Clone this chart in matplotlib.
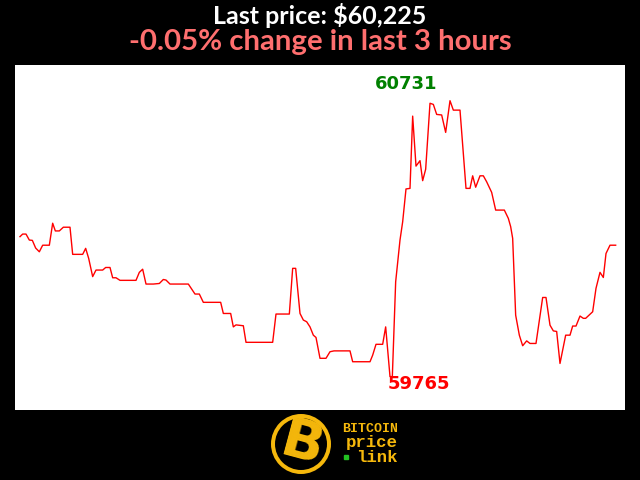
"""
Bitcoin last-3-hours price card: red price line on a white panel,
black frame with headline, high/low labels and the site logo.
"""

import matplotlib
matplotlib.use("Agg")
import matplotlib.pyplot as plt
from matplotlib.patches import Circle

# ---------------------------------------------------------------------------
# Data (minutes since start, price in USD)
# ---------------------------------------------------------------------------
minutes = [
    0.0, 0.8, 1.8, 2.8, 3.7, 4.7, 5.8, 6.8, 8.8, 9.8,
    10.6, 11.8, 13.0, 15.0, 15.8, 18.8, 19.7, 20.6, 21.8, 22.8,
    24.8, 25.7, 27.0, 27.8, 28.8, 30.0, 34.8, 35.8, 36.8, 37.8,
    40.0, 41.8, 43.0, 43.8, 45.0, 50.5, 52.5, 53.8, 55.0, 60.2,
    61.0, 63.2, 64.0, 64.8, 67.0, 67.8, 75.8, 76.8, 80.8, 81.8,
    82.7, 84.0, 85.0, 86.0, 87.0, 88.0, 88.8, 90.0, 91.8, 93.0,
    94.2, 99.0, 99.8, 105.0, 105.8, 106.8, 108.8, 109.7, 111.0, 111.7,
    112.7, 114.0, 114.8, 115.8, 117.0, 117.8, 118.8, 120.0, 120.8, 121.7,
    123.0, 124.0, 125.0, 126.5, 127.7, 129.0, 130.0, 132.0, 133.8, 135.0,
    135.8, 136.7, 138.0, 139.0, 140.0, 141.5, 142.7, 145.3, 146.5, 147.2,
    147.8, 148.7, 149.8, 150.8, 152.0, 153.0, 154.8, 156.8, 157.8, 159.0,
    160.0, 161.0, 162.0, 163.7, 165.0, 165.8, 166.8, 168.0, 169.0, 169.7,
    171.8, 172.8, 174.0, 175.0, 175.8, 177.0, 178.7,
]
prices = [
    60255, 60264, 60264, 60243, 60242, 60215, 60202, 60225, 60225, 60302,
    60275, 60275, 60288, 60288, 60193, 60193, 60214, 60179, 60115, 60138,
    60138, 60147, 60147, 60111, 60111, 60102, 60102, 60130, 60141, 60089,
    60089, 60091, 60105, 60103, 60089, 60089, 60054, 60054, 60025, 60025,
    59986, 59986, 59939, 59946, 59943, 59885, 59885, 59984, 59984, 60144,
    60144, 59986, 59963, 59957, 59939, 59910, 59902, 59829, 59829, 59852,
    59855, 59855, 59817, 59817, 59840, 59878, 59878, 59939, 59765, 59765,
    60097, 60243, 60307, 60422, 60424, 60677, 60502, 60521, 60451, 60491,
    60722, 60718, 60683, 60681, 60620, 60731, 60698, 60698, 60424, 60424,
    60468, 60428, 60468, 60468, 60447, 60410, 60348, 60348, 60319, 60290,
    60249, 59980, 59910, 59873, 59890, 59881, 59881, 60042, 60042, 59945,
    59925, 59923, 59811, 59910, 59910, 59942, 59942, 59977, 59969, 59969,
    59992, 60074, 60130, 60112, 60196, 60225, 60225,
]

last_price = 60225
change_pct = -0.05
hours = 3

GOLD = "#f5b80c"

# ---------------------------------------------------------------------------
# Figure
# ---------------------------------------------------------------------------
fig = plt.figure(figsize=(6.4, 4.8), dpi=100, facecolor="black")
ax = fig.add_axes([15 / 640, 70 / 480, 610 / 640, 345 / 480])
ax.set_facecolor("white")
ax.plot(minutes, prices, color="red", linewidth=1.0)

ax.set_xlim(-1.5, 181.5)
ax.set_ylim(59648, 60856)
ax.set_xticks([])
ax.set_yticks([])
for s in ax.spines.values():
    s.set_visible(False)

# high / low labels
hi = max(prices)
lo = min(prices)
hi_t = minutes[prices.index(hi)]
lo_t = minutes[prices.index(lo)]
ax.annotate(str(hi), xy=(hi_t, hi), xytext=(-44, 17), textcoords="offset pixels",
            ha="center", va="center", color="green", fontsize=13, fontweight="bold")
ax.annotate(str(lo), xy=(lo_t, lo), xytext=(29, -7), textcoords="offset pixels",
            ha="center", va="center", color="red", fontsize=13, fontweight="bold")

# headline, scaled to the widths in the reference
renderer = fig.canvas.get_renderer()


def fitted_text(x, y, s, color, width_px, size):
    t = fig.text(x, y, s, color=color, ha="center", va="center",
                 fontsize=size, fontweight="bold", family=["Lato", "DejaVu Sans"])
    w = t.get_window_extent(renderer).width
    t.set_fontsize(size * width_px / w)
    return t


fitted_text(0.5, 1 - 16 / 480, f"Last price: ${last_price:,}", "white", 214, 15)
fitted_text(0.5, 1 - 42 / 480, f"{change_pct:.2f}% change in last {hours} hours",
            "#ff6f6f", 384, 18)

# ---------------------------------------------------------------------------
# Logo
# ---------------------------------------------------------------------------
lax = fig.add_axes([0, 0, 1, 70 / 480])
lax.set_xlim(0, 640)
lax.set_ylim(0, 70)
lax.axis("off")
lax.set_aspect("equal")
lax.add_patch(Circle((301, 36), 30, facecolor=GOLD, edgecolor="none"))
lax.add_patch(Circle((301, 36), 26, facecolor="black", edgecolor="none"))
lax.text(302, 35, "B", color=GOLD, fontsize=40, fontweight="bold",
         ha="center", va="center", rotation=-15, family="DejaVu Sans")

mono = ["Liberation Mono", "DejaVu Sans Mono"]
lax.text(398, 51, "BITCOIN", color=GOLD, fontsize=9.5, fontweight="bold",
         ha="right", va="center", family=mono)
lax.text(398, 37, "price", color=GOLD, fontsize=12.5, fontweight="bold",
         ha="right", va="center", family=mono)
lax.text(398, 23, "link", color=GOLD, fontsize=12.5, fontweight="bold",
         ha="right", va="center", family=mono)
lax.plot([346], [23], marker="s", markersize=3, color="#22c022")

fig.savefig("out.png", dpi=100, facecolor="black")
